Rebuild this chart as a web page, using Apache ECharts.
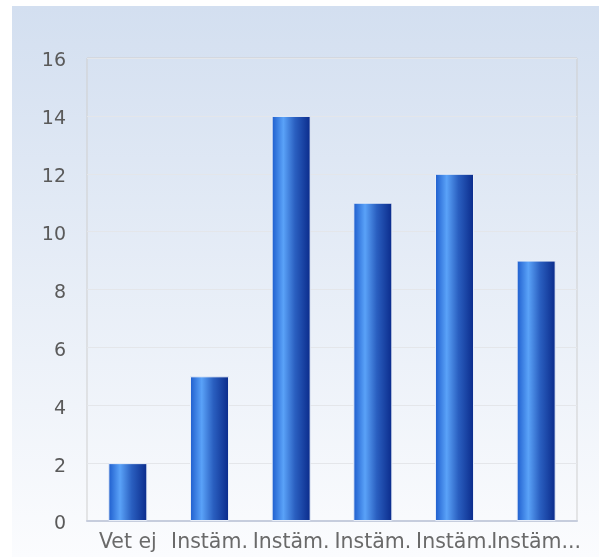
<!DOCTYPE html>
<html><head><meta charset="utf-8">
<script src="https://cdn.jsdelivr.net/npm/echarts@6/dist/echarts.min.js"></script>
<style>html,body{margin:0;padding:0;background:#fff}#c{width:599px;height:557px}</style>
</head><body><div id="c"></div>
<script>
var categories = ["Vet ej", "Instäm.", "Instäm.", "Instäm.", "Instäm.", "Instäm..."];
var values = [2, 5, 14, 11, 12, 9];
var yTicks = [0, 2, 4, 6, 8, 10, 12, 14, 16];

var chart = echarts.init(document.getElementById('c'), null, {renderer: 'canvas'});
chart.setOption({
  animation: false,
  graphic: [{
    type: 'rect', z: -10, silent: true,
    shape: {x: 12, y: 6, width: 587, height: 551},
    style: {fill: {type: 'linear', x: 0, y: 0, x2: 0, y2: 1, colorStops: [
      {offset: 0, color: '#d3dff0'}, {offset: 1, color: '#fbfcfe'}]}}
  }],
  grid: {left: 87, top: 58, right: 22, bottom: 36, show: true, borderColor: '#cfcfcf', borderWidth: 1, backgroundColor: 'transparent'},
  xAxis: {
    type: 'category', data: categories,
    axisLine: {lineStyle: {color: '#c6cddd', width: 2}},
    axisTick: {show: false},
    axisLabel: {interval: 0, hideOverlap: false, color: '#6a6a6a', fontFamily: 'DejaVu Sans', fontSize: 20.5, margin: 11}
  },
  yAxis: {
    type: 'value', min: yTicks[0], max: yTicks[yTicks.length - 1], interval: 2,
    axisLine: {show: false}, axisTick: {show: false},
    splitLine: {lineStyle: {color: '#e4e6ea'}},
    axisLabel: {margin: 21, formatter: '{a|{value}}',
      rich: {a: {color: '#5a5a5a', fontFamily: 'DejaVu Sans', fontSize: 19, padding: [7, 0, 0, 0]}}}
  },
  series: [{
    type: 'bar', data: values, barWidth: 39,
    itemStyle: {
      borderColor: '#e8eef8', borderWidth: 1,
      color: {type: 'linear', x: 0, y: 0, x2: 1, y2: 0, colorStops: [
        {offset: 0, color: '#1d5ccc'}, {offset: 0.3, color: '#5aa2f8'}, {offset: 0.6, color: '#2a5fc0'}, {offset: 1, color: '#0a2a8a'}]}
    }
  }]
});
</script></body></html>
